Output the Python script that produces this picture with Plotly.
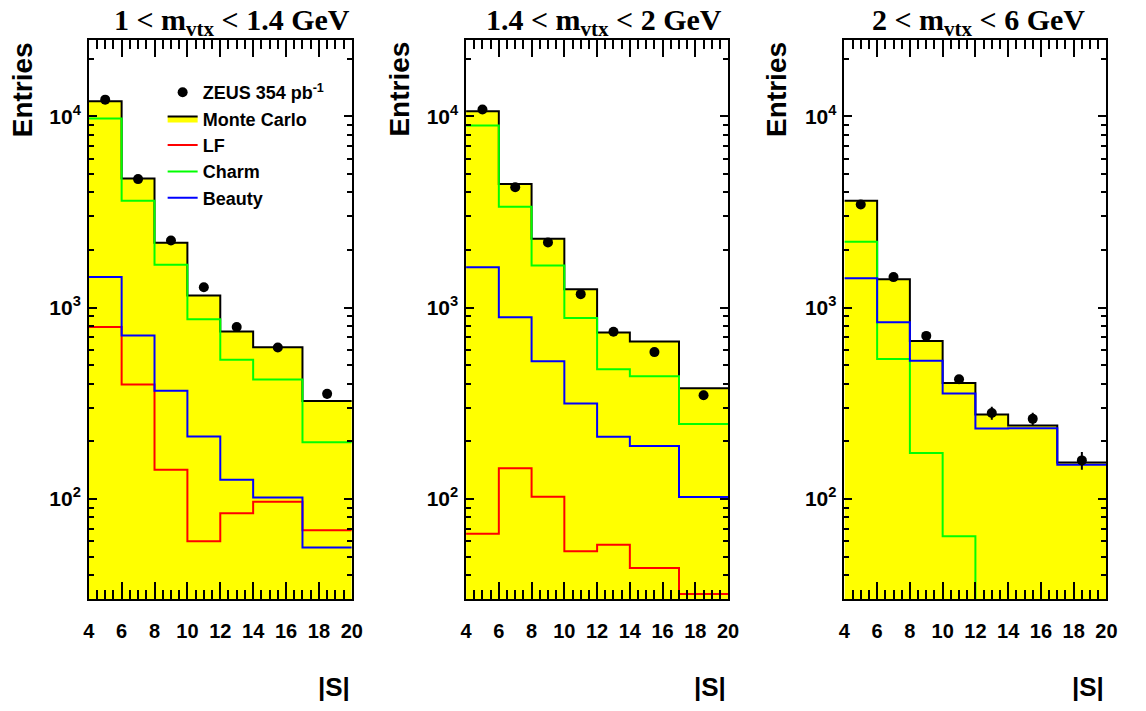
import plotly.graph_objects as go
import math

# ---------------- data ----------------
edges = [4, 6, 8, 10, 12, 14, 17, 20]
centers = [5, 7, 9, 11, 13, 15.5, 18.5]
x_ticks = [4, 6, 8, 10, 12, 14, 16, 18, 20]
y_ticks = [100, 1000, 10000]
y_ticktext = ["10<sup>2</sup>", "10<sup>3</sup>", "10<sup>4</sup>"]

titles = ["1 &lt; m<sub>vtx</sub> &lt; 1.4 GeV",
          "1.4 &lt; m<sub>vtx</sub> &lt; 2 GeV",
          "2 &lt; m<sub>vtx</sub> &lt; 6 GeV"]

data_1 = [12200, 4690, 2240, 1277, 791, 618, 354]
err_1 = [110, 70, 48, 36, 28, 25, 20]
mc_1 = [11980, 4730, 2180, 1155, 750, 621, 325]
lf_1 = [791, 396, 142, 60.1, 84.2, 96.8, 68.6]
charm_1 = [9730, 3610, 1672, 869, 533, 421, 198]
beauty_1 = [1442, 714, 367, 212, 126, 101.6, 55.7]

data_2 = [10830, 4250, 2190, 1175, 747, 585, 348]
err_2 = [105, 65, 47, 34, 27, 24, 19]
mc_2 = [10620, 4417, 2286, 1248, 741, 665, 379]
lf_2 = [65.8, 144.5, 102.7, 53.3, 57.7, 43.6, 31.9]
charm_2 = [8940, 3365, 1656, 881, 476, 438, 246]
beauty_2 = [1625, 891, 524, 315, 211, 189, 102.4]

data_3 = [3457, 1442, 711, 422, 281, 262, 159]
err_3 = [60, 38, 27, 22, 22, 20, 17]
mc_3 = [3612, 1406, 668, 404, 276, 242, 155]
charm_3 = [2204, 538, 174, 63.9, 1, 1, 1]   # last bins fall below the axis range
beauty_3 = [1422, 837, 528, 355, 233, 234, 151]

panels = [
    dict(data=data_1, err=err_1, mc=mc_1, lf=lf_1, charm=charm_1, beauty=beauty_1),
    dict(data=data_2, err=err_2, mc=mc_2, lf=lf_2, charm=charm_2, beauty=beauty_2),
    dict(data=data_3, err=err_3, mc=mc_3, lf=None, charm=charm_3, beauty=beauty_3),
]

# ---------------- layout geometry ----------------
W, H = 1146, 711
x_doms = [(84, 351), (467, 733), (851, 1117)]
y_top, y_bot = 40, 599
xlab_line = 617          # position of the axis that carries the x tick labels
title_cx = [229, 607, 987]
entries_cx = [17, 399, 782]

def px(x):
    return x / W

def py(y):
    return 1 - y / H

YEL = "#ffff00"
RED = "#ff0000"
GRN = "#00ff00"
BLU = "#0000ff"

def step(vals):
    return edges, list(vals) + [vals[-1]]

def aid(n):
    return "" if n == 1 else str(n)

fig = go.Figure()

for i, p in enumerate(panels):
    xa = "x" + aid(i + 1)
    ya = "y" + aid(i + 1)
    show = (i == 0)
    sx, sy = step(p["mc"])
    fig.add_trace(go.Scatter(x=sx, y=sy, mode="lines", line_shape="hv",
                             line=dict(color="black", width=2), fill="tozeroy",
                             fillcolor=YEL, name="Monte Carlo", showlegend=show,
                             legendrank=2, xaxis=xa, yaxis=ya, hoverinfo="skip"))
    if p["lf"] is not None:
        sx, sy = step(p["lf"])
        fig.add_trace(go.Scatter(x=sx, y=sy, mode="lines", line_shape="hv",
                                 line=dict(color=RED, width=2), name="LF",
                                 showlegend=show, legendrank=3, xaxis=xa, yaxis=ya,
                                 hoverinfo="skip"))
    sx, sy = step(p["charm"])
    fig.add_trace(go.Scatter(x=sx, y=sy, mode="lines", line_shape="hv",
                             line=dict(color=GRN, width=2), name="Charm",
                             showlegend=show, legendrank=4, xaxis=xa, yaxis=ya,
                             hoverinfo="skip"))
    sx, sy = step(p["beauty"])
    fig.add_trace(go.Scatter(x=sx, y=sy, mode="lines", line_shape="hv",
                             line=dict(color=BLU, width=2), name="Beauty",
                             showlegend=show, legendrank=5, xaxis=xa, yaxis=ya,
                             hoverinfo="skip"))
    fig.add_trace(go.Scatter(x=centers, y=p["data"], mode="markers",
                             marker=dict(color="black", size=10),
                             error_y=dict(type="data", array=p["err"], color="black",
                                          thickness=2, width=0),
                             name="ZEUS 354 pb<sup>-1</sup>", showlegend=show,
                             legendrank=1, xaxis=xa, yaxis=ya, hoverinfo="skip"))
    # empty traces that register the label-only subplots
    fig.add_trace(go.Scatter(x=[], y=[], xaxis="x" + aid(i + 4), yaxis="y" + aid(i + 4),
                             showlegend=False, hoverinfo="skip"))
    fig.add_trace(go.Scatter(x=[], y=[], xaxis="x" + aid(i + 7), yaxis="y" + aid(i + 7),
                             showlegend=False, hoverinfo="skip"))

ax_font = dict(family="Liberation Sans", size=20, color="black", weight="bold")
minor_y = sorted(set([v * 10 ** d for d in (1, 2, 3, 4) for v in range(2, 10)
                      if 30 < v * 10 ** d < 25000]))
yrange = [math.log10(30), math.log10(25000)]
hidden = dict(showline=False, showgrid=False, zeroline=False, showticklabels=False,
              ticks="")

layout = dict(width=W, height=H, margin=dict(l=0, r=0, t=0, b=0),
              paper_bgcolor="white", plot_bgcolor="rgba(0,0,0,0)", showlegend=True,
              hovermode=False,
              legend=dict(x=px(159), y=py(74), xanchor="left", yanchor="top",
                          bgcolor="rgba(0,0,0,0)", itemwidth=30,
                          font=dict(family="Liberation Sans", size=18, color="black",
                                    weight="bold"),
                          tracegroupgap=0))

annotations = []
for i in range(3):
    n = i + 1
    x0, x1 = x_doms[i]
    # frame axes carrying the ROOT-style inside ticks (no labels)
    layout["xaxis" + aid(n)] = dict(domain=[px(x0), px(x1)], anchor="y" + aid(n),
                                    range=[4, 20], tickmode="array", tickvals=x_ticks,
                                    showticklabels=False,
                                    ticks="inside", ticklen=17, tickwidth=2,
                                    tickcolor="black", showline=True, linecolor="black",
                                    linewidth=2, mirror="ticks", showgrid=False,
                                    zeroline=False,
                                    minor=dict(ticks="inside", ticklen=9, tickwidth=2,
                                               tickcolor="black", tick0=4, dtick=0.5,
                                               showgrid=False))
    layout["yaxis" + aid(n)] = dict(domain=[py(y_bot), py(y_top)], anchor="x" + aid(n),
                                    type="log", range=yrange, tickmode="array",
                                    tickvals=y_ticks, showticklabels=False,
                                    ticks="inside", ticklen=8, tickwidth=2,
                                    tickcolor="black", showline=True, linecolor="black",
                                    linewidth=2, mirror="ticks", showgrid=False,
                                    zeroline=False,
                                    minor=dict(ticks="inside", ticklen=5, tickwidth=2,
                                               tickcolor="black", tickmode="array",
                                               tickvals=minor_y, showgrid=False))
    # label-only subplot for the x tick labels: thin strip below the frame
    nx = i + 4
    layout["xaxis" + aid(nx)] = dict(domain=[px(x0), px(x1)], anchor="y" + aid(nx),
                                     range=[4, 20], tickmode="array", tickvals=x_ticks,
                                     side="bottom", ticks="", showline=False,
                                     showgrid=False, zeroline=False, tickfont=ax_font)
    layout["yaxis" + aid(nx)] = dict(domain=[py(xlab_line), py(xlab_line - 4)],
                                     anchor="x" + aid(nx), range=[0, 1], **hidden)
    # label-only subplot for the y tick labels: thin strip left of the frame
    ny = i + 7
    layout["xaxis" + aid(ny)] = dict(domain=[px(x0 - 7), px(x0 - 3)],
                                     anchor="y" + aid(ny), range=[0, 1], **hidden)
    layout["yaxis" + aid(ny)] = dict(domain=[py(y_bot), py(y_top)], anchor="x" + aid(ny),
                                     type="log", range=yrange, tickmode="array",
                                     tickvals=y_ticks, ticktext=y_ticktext, side="left",
                                     ticks="", showline=False, showgrid=False,
                                     zeroline=False, tickfont=dict(ax_font, size=21))
    annotations.append(dict(text=titles[i], x=px(title_cx[i]), y=py(1),
                            xref="paper", yref="paper", xanchor="center", yanchor="top",
                            showarrow=False,
                            font=dict(family="Liberation Serif", size=30, color="black",
                                      weight="bold")))
    annotations.append(dict(text="Entries", x=px(entries_cx[i]), y=py(y_top),
                            xref="paper", yref="paper", xanchor="center", yanchor="top",
                            textangle=-90, showarrow=False,
                            font=dict(family="Liberation Sans", size=28, color="black",
                                      weight="bold")))
    annotations.append(dict(text="|S|", x=px(x1), y=py(687),
                            xref="paper", yref="paper", xanchor="right", yanchor="middle",
                            showarrow=False,
                            font=dict(family="Liberation Sans", size=26, color="black",
                                      weight="bold")))
layout["annotations"] = annotations
fig.update_layout(**layout)

fig.write_html("out.html", config={"displayModeBar": False},
               post_script="document.body.style.margin='0px';")
